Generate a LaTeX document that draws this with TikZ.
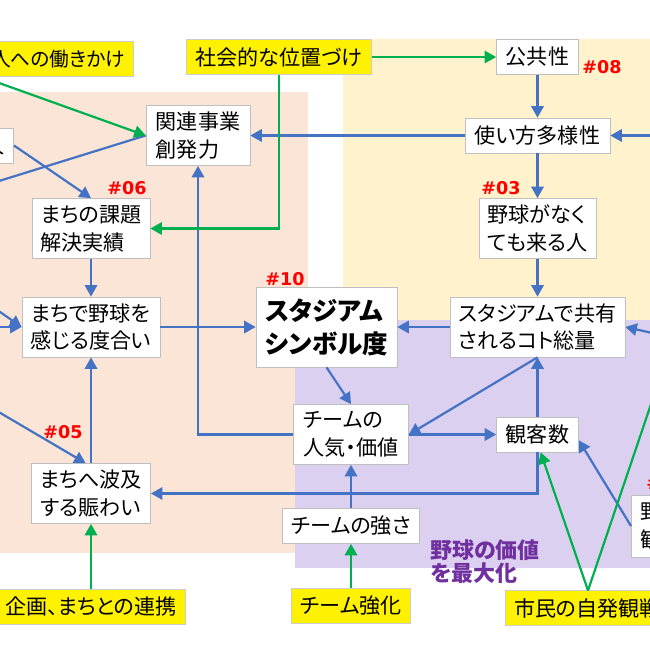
\documentclass[tikz,border=0pt]{standalone}
\usepackage{fontspec}
\usepackage{tikz}
\usetikzlibrary{arrows.meta}
\newfontfamily\jp{Noto Sans CJK JP}[RawFeature=+palt]
\newfontfamily\tagfont{DejaVu Sans}
\definecolor{areaPink}{HTML}{FBE5D6}
\definecolor{areaCream}{HTML}{FFF2CC}
\definecolor{areaLilac}{HTML}{DCD0F0}
\definecolor{flowBlue}{HTML}{4472C4}
\definecolor{pushGreen}{HTML}{00B050}
\definecolor{tagRed}{HTML}{FF0000}
\definecolor{goalPurple}{HTML}{7030A0}
\tikzset{
	box/.style={draw=black!25, fill=white, inner xsep=5pt, inner ysep=2pt, align=left, minimum height=0.7cm, font=\jp\fontsize{12}{15.9}\selectfont},
	tall/.style={minimum height=1.2cm},
	lever/.style={box, fill=yellow, draw=black!20},
	numtag/.style={text=tagRed, inner sep=0pt, font=\tagfont\bfseries\fontsize{10}{11}\selectfont},
	flow/.style={flowBlue, line width=1.25pt, -{Triangle[length=6.5pt, width=7pt]}},
	push/.style={pushGreen, line width=1.25pt, -{Triangle[length=6.5pt, width=7pt]}},
}

\begin{document}
\begin{tikzpicture}[x=0.02cm, y=-0.02cm]
	\useasboundingbox (0,0) rectangle (650,650);
	\clip (0,0) rectangle (650,650);
	% areas
	\fill[areaPink] (-5,92) rectangle (308,553);
	\fill[areaCream] (343,39) rectangle (660,320);
	\fill[areaLilac] (295,320) rectangle (660,568);

	\node[box, minimum width=1.64cm] (kokyo) at (537.5,57) {公共性};
	\node[box, minimum width=2.9cm] (tsukai) at (537.5,135.5) {使い方多様性};
	\node[box, tall, minimum width=2.24cm] (nakute) at (537.5,228.5) {野球がなく\\ても来る人};
	\node[box, tall, minimum width=3.26cm] (kyoyu) at (537.5,327) {スタジアムで共有\\されるコト総量};
	\node[box, minimum width=1.64cm] (kyakusu) at (537.5,434.5) {観客数};
	\node[box, tall, minimum width=2.08cm] (kanren) at (198,135.5) {関連事業\\創発力};
	\node[box, tall, minimum width=2.24cm] (kadai) at (91,228.5) {まちの課題\\解決実績};
	\node[box, tall, minimum width=2.66cm] (kanjiru) at (91,327) {まちで野球を\\感じる度合い};
	\node[box, tall, minimum width=2.26cm] (nigiwai) at (91,493.5) {まちへ波及\\する賑わい};
	\node[box, minimum width=2.82cm, minimum height=1.6cm, font=\jp\bfseries\fontsize{14.5}{18.7}\selectfont] (symbol) at (326.5,327) {スタジアム\\シンボル度};
	\node[box, tall, minimum width=2.3cm] (ninki) at (351,434.5) {チームの\\人気・価値};
	\node[box, minimum width=2.5cm] (tsuyosa) at (351,526) {チームの強さ};
	\node[box, anchor=east] (hidari) at (14,145.5) {人};
	\node[box, anchor=west, minimum height=1.24cm] (migi) at (631,526) {野\\観};

	\node[lever, anchor=east, font=\jp\fontsize{11.2}{15}\selectfont] (hito) at (134,59) {人への働きかけ};
	\node[lever, minimum width=3.64cm] (shakai) at (279,57) {社会的な位置づけ};
	\node[lever, minimum width=3.68cm] (kikaku) at (91,606.5) {企画、まちとの連携};
	\node[lever, minimum width=2.28cm] (kyoka) at (351,606) {チーム強化};
	\node[lever, anchor=west] (shimin) at (505,608) {市民の自発観戦};

	\node[numtag] (t08) at (602,67) {\#08};
	\node[numtag] (t03) at (501,188) {\#03};
	\node[numtag] (t06) at (127,188) {\#06};
	\node[numtag] (t05) at (63,432) {\#05};
	\node[numtag] (t10) at (285,279) {\#10};
	\node[numtag, anchor=west] (tmigi) at (646,483) {\#};
	\node[anchor=west, align=left, inner sep=0pt, text=goalPurple, font=\jp\bfseries\fontsize{12.5}{13.2}\selectfont] (saidaika) at (430,561.5) {野球の価値\\を最大化};

	\coordinate (eTsukai) at (670,135.5);
	\coordinate (eKyoyu) at (670,337);
	\coordinate (eKanjiruA) at (-20,298);
	\coordinate (eKanjiruB) at (-20,327);
	\coordinate (eNigiwai) at (-20,401);
	\coordinate (eKanren) at (-30,190);
	\coordinate (apex) at (588,590.5);
	\coordinate (eShimin) at (671,345);

	\draw[flow] (kokyo) -- (tsukai);
	\draw[flow] (tsukai) -- (nakute);
	\draw[flow] (nakute) -- (kyoyu);
	\draw[flow] (eTsukai) -- (tsukai);
	\draw[flow] (tsukai) -- (kanren);
	\draw[flow] (eKyoyu) -- (kyoyu.east);
	\draw[flow] (kyoyu) -- (symbol);
	\draw[flow] (kanjiru) -- (symbol);
	\draw[flow] (kadai) -- (kanjiru);
	\draw[flow] (nigiwai) -- (kanjiru);
	\draw[flow] (eKanjiruA) -- (kanjiru.west);
	\draw[flow] (eKanjiruB) -- (kanjiru.west);
	\draw[flow] (eNigiwai) -- (nigiwai.100);
	\draw[flow] (hidari.east) -- (kadai.north);
	\draw[flow] (kanren.west) -- (eKanren);
	\draw[flow] (ninki.west) -| (kanren.south);
	\draw[flow] (symbol.south) -- (ninki.north);
	\draw[flow] (tsuyosa) -- (ninki);
	\draw[flow] (ninki.east) -- (kyakusu.west);
	\draw[flow] (kyoyu.south) -- (ninki.east);
	\draw[flow] (kyakusu) -- (kyoyu);
	\draw[flow] (kyakusu.south) |- (nigiwai.east);
	\draw[flow] (migi.west) -- (kyakusu.-8);

	\draw[push] (hito.south west) -- (kanren.west);
	\draw[push] (shakai.east) -- (kokyo.west);
	\draw[push] (shakai.south) |- (kadai.east);
	\draw[push] (kikaku) -- (nigiwai);
	\draw[push] (kyoka) -- (tsuyosa);
	\draw[push] (apex) -- (kyakusu.-80);
	\draw[push] (apex) -- (eShimin);

\end{tikzpicture}
\end{document}
